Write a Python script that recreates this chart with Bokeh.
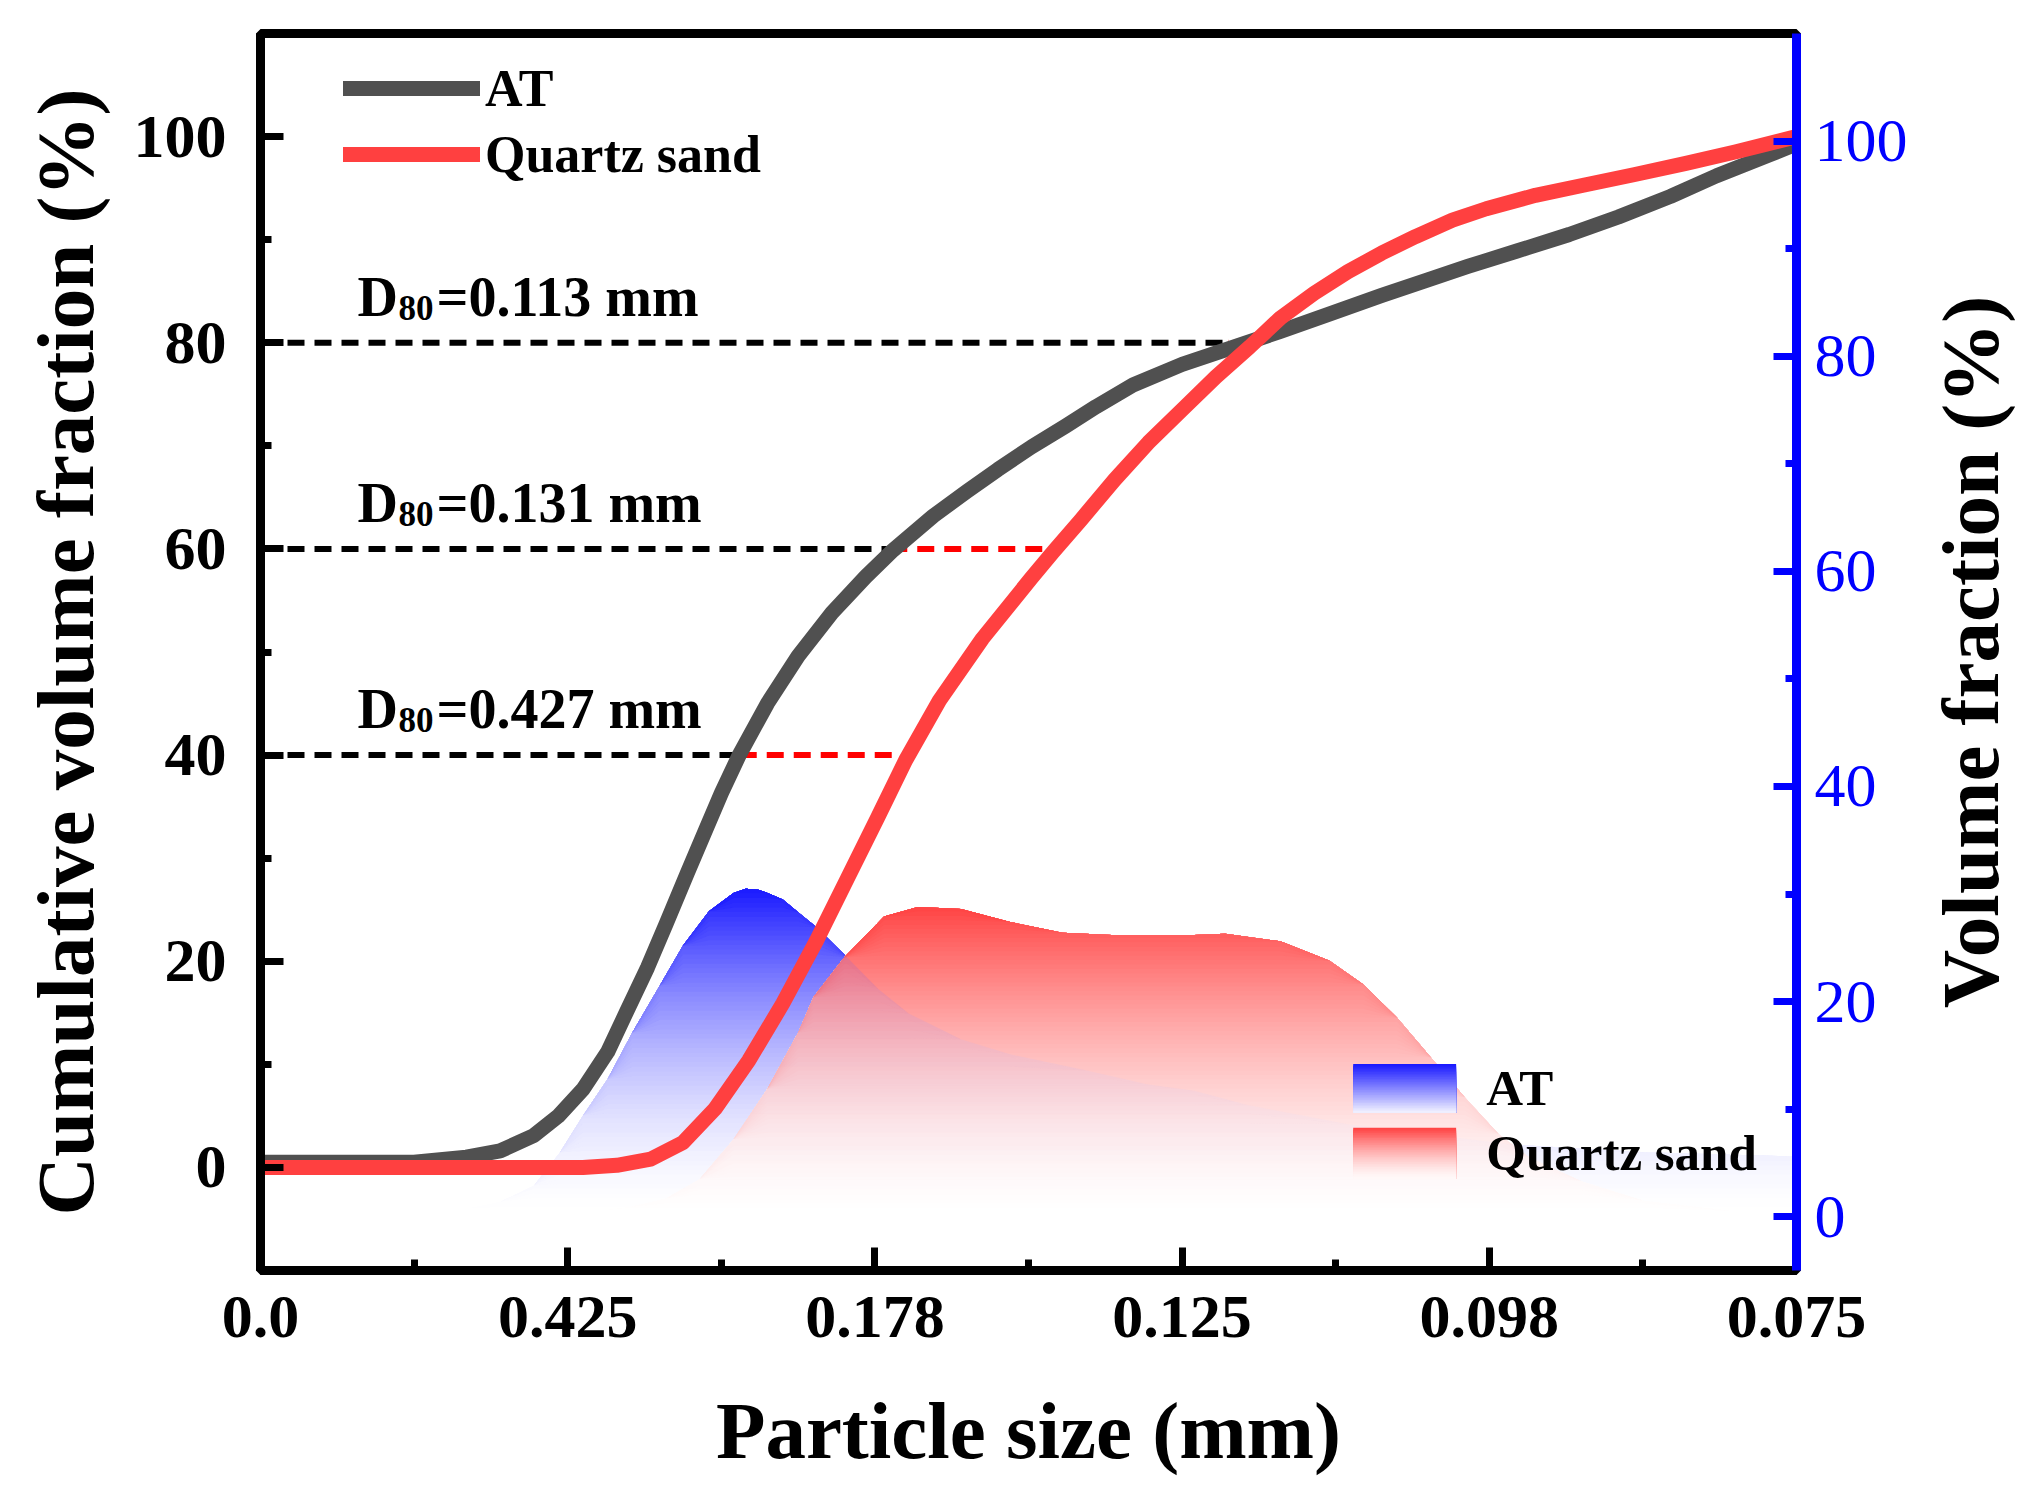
import numpy as np
from bokeh.plotting import figure
from bokeh.layouts import row
from bokeh.models import Range1d, LinearAxis, FixedTicker, Label, Legend, LegendItem
from bokeh.embed import file_html
from bokeh.resources import INLINE

# --- data ---
x_tick_labels = ["0.0", "0.425", "0.178", "0.125", "0.098", "0.075"]

# cumulative volume fraction (%), left axis; x is the tick position index
at_cum_x = [0.0, 0.5, 0.67, 0.78, 0.89, 0.97, 1.05, 1.13, 1.19, 1.26, 1.32, 1.39,
            1.45, 1.50, 1.56, 1.65, 1.75, 1.86, 1.97, 2.06, 2.19, 2.30, 2.40,
            2.51, 2.62, 2.72, 2.84, 3.00, 3.16, 3.32, 3.49, 3.65, 3.80, 3.93,
            4.09, 4.26, 4.42, 4.59, 4.74, 4.91, 5.0]
at_cum_y = [0.5, 0.5, 1.0, 1.6, 3.1, 5.0, 7.6, 11.2, 15.0, 19.4, 23.6, 28.6,
            32.8, 36.3, 40.1, 45.0, 49.6, 53.8, 57.3, 59.9, 63.2, 65.6, 67.7,
            69.9, 71.9, 73.8, 75.9, 77.9, 79.5, 81.1, 82.9, 84.6, 86.1, 87.4,
            88.9, 90.5, 92.2, 94.2, 96.2, 98.2, 99.3]

qs_cum_x = [0.0, 0.6, 1.05, 1.16, 1.27, 1.375, 1.48, 1.59, 1.70, 1.81, 1.91, 2.01,
            2.10, 2.21, 2.35, 2.51, 2.58, 2.67, 2.78, 2.89, 3.00, 3.11,
            3.22, 3.32, 3.43, 3.54, 3.65, 3.76, 3.88, 3.99, 4.15, 4.31, 4.47,
            4.64, 4.80, 5.0]
qs_cum_y = [0.0, 0.0, 0.0, 0.2, 0.8, 2.4, 5.7, 10.4, 15.9, 22.0, 28.0, 34.0,
            39.5, 45.3, 51.3, 57.2, 59.7, 62.8, 66.7, 70.3, 73.5, 76.7,
            79.6, 82.4, 84.8, 86.9, 88.7, 90.3, 91.9, 93.0, 94.3, 95.3, 96.3,
            97.4, 98.5, 100.0]

# volume fraction (%), right axis
at_vol_x = [0.55, 0.68, 0.78, 0.89, 0.975, 1.05, 1.13, 1.21, 1.30, 1.375, 1.46,
            1.54, 1.58, 1.62, 1.65, 1.70, 1.75, 1.81, 1.91, 2.01, 2.11, 2.28,
            2.44, 2.69, 2.89, 3.04, 3.21, 3.54, 4.08, 4.51, 5.0]
at_vol_y = [0.3, 0.8, 1.4, 2.9, 6.0, 9.4, 12.8, 17.1, 21.5, 25.2, 28.4,
            30.1, 30.5, 30.4, 30.1, 29.5, 28.3, 26.9, 24.1, 21.2, 18.9, 16.5,
            15.1, 13.6, 12.3, 11.7, 10.4, 8.6, 6.7, 6.0, 5.6]

qs_vol_x = [1.0, 1.2, 1.32, 1.43, 1.54, 1.65, 1.75, 1.80, 1.90, 2.03, 2.14, 2.28,
            2.44, 2.61, 2.77, 3.04, 3.14, 3.32, 3.48, 3.59, 3.70, 3.81, 3.92,
            4.03, 4.13, 4.30, 4.5, 4.8, 5.0]
qs_vol_y = [0.2, 0.9, 1.7, 3.5, 7.2, 11.9, 17.1, 20.4, 24.1, 27.9, 28.8, 28.6,
            27.4, 26.4, 26.2, 26.2, 26.3, 25.6, 23.8, 21.6, 18.5, 14.8, 11.1,
            7.7, 5.5, 3.3, 1.5, 0.5, 0.2]

# D80 guide lines: level (%), x where AT curve / quartz sand curve reach it
d_levels = [80, 60, 40]
d_at_x = [3.15, 2.05, 1.56]
d_qs_x = [3.15, 2.56, 2.08]
d_texts = ["=0.113 mm", "=0.131 mm", "=0.427 mm"]

FONT = "Liberation Serif"
BLUE_TOP = (26, 26, 255)
RED_TOP = (255, 68, 68)


def mix(rgb, t):
    r, g, b = (int(round(255 + (c - 255) * t)) for c in rgb)
    return "#%02x%02x%02x" % (r, g, b)


p = figure(
    width=1910, height=1478,
    x_range=Range1d(0, 5), y_range=Range1d(-10, 110),
    output_backend="svg", toolbar_location=None,
    min_border_left=260, min_border_right=111,
    min_border_top=33, min_border_bottom=206,
)
p.extra_y_ranges = {"vol": Range1d(-5, 110)}
p.grid.visible = False
p.outline_line_color = "black"
p.outline_line_width = 9
p.background_fill_color = "white"


def gradient_area(xs, ys, top_rgb, n=70, power=1.7):
    # opaque stacked bands: each one covers from its level up to the curve
    ys = np.asarray(ys, dtype=float)
    peak = ys.max()
    levels = np.linspace(0, peak, n + 1)
    for k in range(n):
        t = ((levels[k] + levels[k + 1]) / 2 / peak) ** power
        p.varea(x=xs, y1=np.minimum(ys, levels[k]), y2=ys,
                fill_color=mix(top_rgb, t), y_range_name="vol")


def gradient_tint(xs, ys, top_rgb, n=35, power=1.7, alpha=0.15):
    # faint see-through copy drawn over the other area
    ys = np.asarray(ys, dtype=float)
    peak = ys.max()
    levels = np.linspace(0, peak, n + 1)
    for k in range(n):
        t = ((levels[k] + levels[k + 1]) / 2 / peak) ** power
        p.varea(x=xs, y1=np.minimum(ys, levels[k]), y2=np.minimum(ys, levels[k + 1]),
                fill_color=mix(top_rgb, t), fill_alpha=alpha, y_range_name="vol")


gradient_area(at_vol_x, at_vol_y, BLUE_TOP, power=1.7)
gradient_area(qs_vol_x, qs_vol_y, RED_TOP, power=1.6)
gradient_tint(at_vol_x, at_vol_y, BLUE_TOP, power=1.7)

# guide lines
zeros = [0] * len(d_levels)
p.segment(x0=zeros, y0=d_levels, x1=d_at_x, y1=d_levels,
          line_color="black", line_width=6, line_dash="17 10")
p.segment(x0=d_at_x, y0=d_levels, x1=d_qs_x, y1=d_levels,
          line_color="#ff0000", line_width=6, line_dash="17 10")

r_at = p.line(at_cum_x, at_cum_y, line_color="#505050", line_width=15,
              line_join="round", line_cap="round")
r_qs = p.line(qs_cum_x, qs_cum_y, line_color="#ff4040", line_width=15,
              line_join="round", line_cap="round")

# D80 labels
for lev, txt in zip(d_levels, d_texts):
    common = dict(x=0, y=lev, text_font=FONT, text_font_style="bold",
                  text_baseline="alphabetic", text_color="black")
    p.add_layout(Label(text="D", x_offset=97, y_offset=46, text_font_size="56px", **common))
    p.add_layout(Label(text="80", x_offset=138, y_offset=35, text_font_size="35px", **common))
    p.add_layout(Label(text=txt, x_offset=176, y_offset=46, text_font_size="56px", **common))

# line legend (top left)
legend = Legend(
    items=[LegendItem(label="AT", renderers=[r_at]),
           LegendItem(label="Quartz sand", renderers=[r_qs])],
    location=(83, 1086),
    glyph_width=137, glyph_height=60, label_standoff=5, spacing=6,
    padding=0, margin=0, border_line_color=None, background_fill_alpha=0,
    label_text_font=FONT, label_text_font_style="bold", label_text_font_size="52px",
    label_text_color="black", label_height=60,
)
p.add_layout(legend)

# area legend (bottom right), gradient swatches
box_x0, box_x1 = 3.557, 3.892
swatches = [("AT", BLUE_TOP, 14.2, 9.66, 1.0), ("Quartz sand", RED_TOP, 8.26, 3.5, 1.5)]
for name, rgb, top, bot, pw in swatches:
    nb = 30
    tops = np.linspace(top, bot, nb + 1)[:-1]
    cols = [mix(rgb, (1 - i / nb) ** pw * 0.97 + 0.03) for i in range(nb)]
    # stacked: each strip runs from its top down to the swatch bottom
    for tp, col in zip(tops, cols):
        p.quad(left=box_x0, right=box_x1, top=tp, bottom=bot, fill_color=col,
               line_color=None, y_range_name="vol")
    p.add_layout(Label(x=3.99, y=(top + bot) / 2, y_range_name="vol", text=name,
                       text_font=FONT, text_font_style="bold", text_font_size="51px",
                       text_baseline="middle", text_color="black"))

# axes
for ax in (p.xaxis[0], p.yaxis[0]):
    ax.axis_line_width = 9
    ax.major_tick_line_width = 7
    ax.minor_tick_line_width = 7
    ax.major_tick_in = 23
    ax.major_tick_out = 0
    ax.minor_tick_in = 11
    ax.minor_tick_out = 0
    ax.major_label_text_font = FONT
    ax.major_label_text_font_style = "bold"
    ax.major_label_text_font_size = "62px"
    ax.major_label_text_color = "black"
    ax.axis_label_text_font = FONT
    ax.axis_label_text_font_style = "bold"
    ax.axis_label_text_font_size = "81px"
    ax.axis_label_text_color = "black"

p.xaxis.ticker = FixedTicker(ticks=list(range(len(x_tick_labels))),
                             minor_ticks=[i + 0.5 for i in range(len(x_tick_labels) - 1)])
p.xaxis.major_label_overrides = {i: lab for i, lab in enumerate(x_tick_labels)}
p.xaxis.axis_label = "Particle size (mm)"
p.xaxis.major_label_standoff = 26
p.xaxis.axis_label_standoff = 46

p.yaxis.ticker = FixedTicker(ticks=[0, 20, 40, 60, 80, 100], minor_ticks=[10, 30, 50, 70, 90])
p.yaxis.axis_label = "Cumulative volume fraction (%)"
p.yaxis.major_label_standoff = 34
p.yaxis.axis_label_standoff = 20

right = LinearAxis(
    y_range_name="vol",
    ticker=FixedTicker(ticks=[0, 20, 40, 60, 80, 100], minor_ticks=[10, 30, 50, 70, 90]),
    axis_line_color="#0000ff", axis_line_width=9,
    major_tick_line_color="#0000ff", minor_tick_line_color="#0000ff",
    major_tick_line_width=7, minor_tick_line_width=7,
    major_tick_in=23, major_tick_out=0, minor_tick_in=11, minor_tick_out=0,
    major_label_text_font=FONT, major_label_text_font_style="normal",
    major_label_text_font_size="62px", major_label_text_color="#0000ff",
    major_label_standoff=18,
)
p.add_layout(right, "right")

# right-hand title: a narrow strip whose (empty) left axis carries the label,
# so it reads bottom to top and is centred on the same frame height
side = figure(
    width=111, height=1478, x_range=Range1d(0, 1), y_range=Range1d(0, 1),
    output_backend="svg", toolbar_location=None,
    x_axis_location=None, y_axis_location="left",
    min_border_left=105, min_border_right=0, min_border_top=33, min_border_bottom=206,
)
side.grid.visible = False
side.outline_line_color = None
sax = side.yaxis[0]
sax.ticker = FixedTicker(ticks=[])
sax.axis_line_color = None
sax.major_tick_line_color = None
sax.minor_tick_line_color = None
sax.major_label_standoff = 0
sax.axis_label_standoff = 0
sax.axis_label = "Volume fraction (%)"
sax.axis_label_text_font = FONT
sax.axis_label_text_font_style = "bold"
sax.axis_label_text_font_size = "81px"
sax.axis_label_text_color = "black"

layout = row(p, side, spacing=0)
open("out.html", "w").write(file_html(layout, INLINE))
